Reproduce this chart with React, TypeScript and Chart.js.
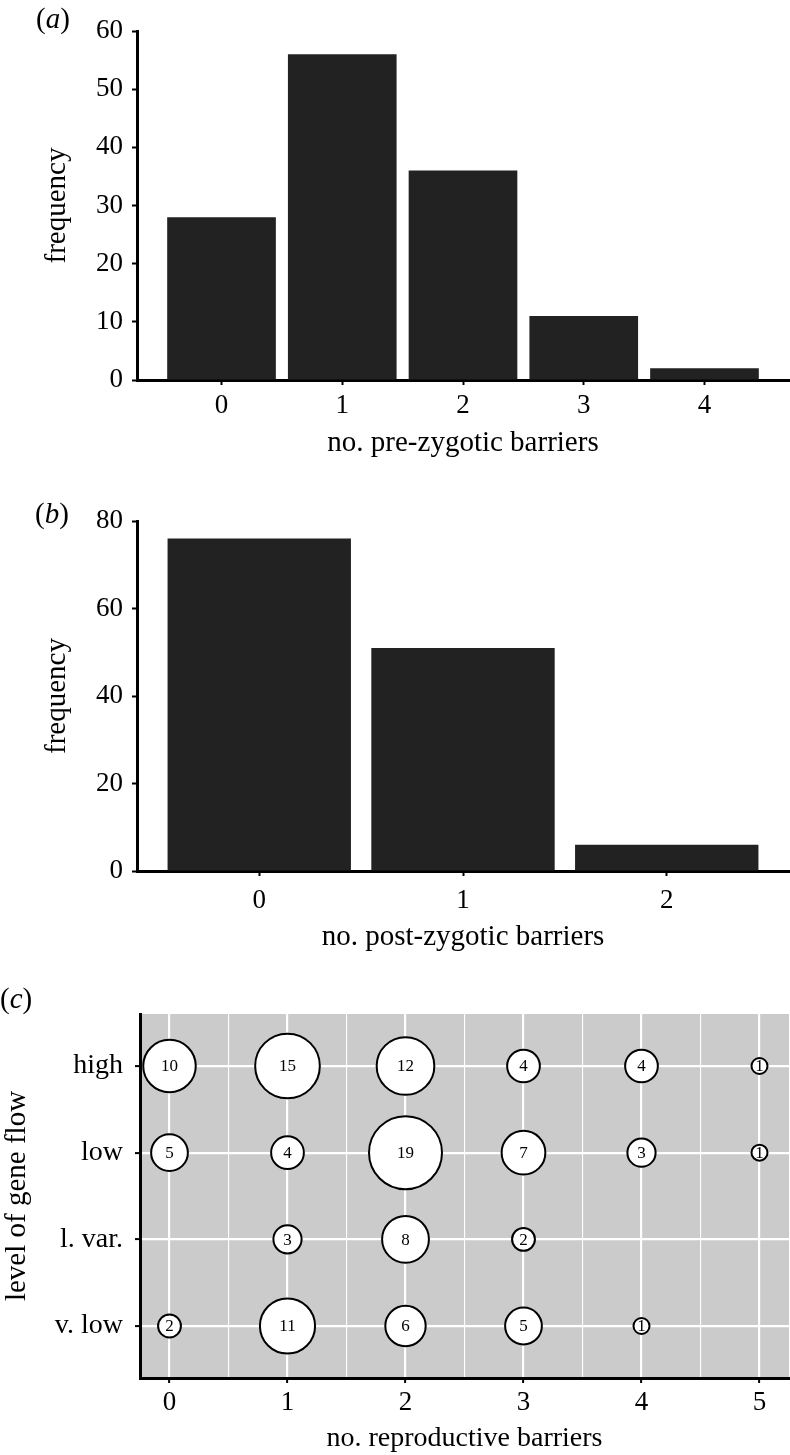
import React, { useEffect, useRef } from "react";
import { Chart, registerables } from "chart.js";

Chart.register(...registerables);

const FONT = "'Liberation Serif', 'Times New Roman', Times, serif";

// ---------- Panel (a) ----------
const preZygoticBarriers = [0, 1, 2, 3, 4];
const preZygoticFrequency = [28, 56, 36, 11, 2];
const preFrequencyTicks = [0, 10, 20, 30, 40, 50, 60];

// ---------- Panel (b) ----------
const postZygoticBarriers = [0, 1, 2];
const postZygoticFrequency = [76, 51, 6];
const postFrequencyTicks = [0, 20, 40, 60, 80];

// ---------- Panel (c) ----------
const reproductiveBarriers = [0, 1, 2, 3, 4, 5];
const geneFlowLevels = ["v. low", "l. var.", "low", "high"];
const countsVLow = [2, 11, 6, 5, 1, null];
const countsLVar = [null, 3, 8, 2, null, null];
const countsLow = [5, 4, 19, 7, 3, 1];
const countsHigh = [10, 15, 12, 4, 4, 1];
const countsByLevel = [countsVLow, countsLVar, countsLow, countsHigh];

const W = 790;

function bubbleRadius(n: number) {
  return Math.sqrt(7.4 + 73.6 * n) - 1;
}

type BarSpec = {
  height: number;
  top: number;
  bottom: number;
  left: number;
  xs: number[];
  ys: number[];
  yTicks: number[];
  xMin: number;
  xMax: number;
  xTitle: string;
  xTickPad: number;
  xTitlePad: number;
};

function barConfig(s: BarSpec): any {
  return {
    type: "bar",
    data: {
      datasets: [
        {
          data: s.xs.map((x, i) => ({ x, y: s.ys[i] })),
          backgroundColor: "#222222",
          borderWidth: 0,
          barPercentage: 0.9,
          categoryPercentage: 1,
        },
      ],
    },
    options: {
      responsive: false,
      animation: false,
      events: [],
      layout: { autoPadding: false, padding: { top: s.top, right: 1, left: 0, bottom: 0 } },
      plugins: {
        legend: { display: false },
        tooltip: { enabled: false },
        title: { display: false },
      },
      scales: {
        x: {
          type: "linear",
          min: s.xMin,
          max: s.xMax,
          offset: false,
          afterBuildTicks: (sc: any) => {
            sc.ticks = s.xs.map((v) => ({ value: v }));
          },
          afterFit: (sc: any) => {
            sc.height = s.height - s.bottom;
          },
          grid: {
            offset: false,
            drawOnChartArea: false,
            drawTicks: true,
            tickLength: 5,
            tickWidth: 2,
            tickColor: "#000",
          },
          border: { display: true, color: "#000", width: 3 },
          ticks: {
            color: "#000",
            font: { family: FONT, size: 27 },
            padding: s.xTickPad,
            maxRotation: 0,
            autoSkip: false,
          },
          title: {
            display: true,
            text: s.xTitle,
            color: "#000",
            font: { family: FONT, size: 29 },
            padding: { top: 0, bottom: s.xTitlePad },
          },
        },
        y: {
          type: "linear",
          min: s.yTicks[0],
          max: s.yTicks[s.yTicks.length - 1],
          afterBuildTicks: (sc: any) => {
            sc.ticks = s.yTicks.map((v) => ({ value: v }));
          },
          afterFit: (sc: any) => {
            sc.width = s.left;
          },
          grid: {
            drawOnChartArea: false,
            drawTicks: true,
            tickLength: 5,
            tickWidth: 2,
            tickColor: "#000",
          },
          border: { display: true, color: "#000", width: 3 },
          ticks: {
            color: "#000",
            font: { family: FONT, size: 27 },
            padding: 9,
          },
          title: {
            display: true,
            text: "frequency",
            color: "#000",
            font: { family: FONT, size: 29 },
            padding: { top: 40, bottom: 0 },
          },
        },
      },
    },
  };
}

const bgPlugin = {
  id: "panelBg",
  beforeDraw(chart: any) {
    const { ctx, chartArea } = chart;
    ctx.save();
    ctx.fillStyle = "#cbcbcb";
    ctx.fillRect(chartArea.left, chartArea.top, chartArea.width, chartArea.height);
    ctx.restore();
  },
};

const bubbleLabelPlugin = {
  id: "bubbleLabels",
  afterDatasetsDraw(chart: any) {
    const { ctx } = chart;
    const meta = chart.getDatasetMeta(0);
    const raw = chart.data.datasets[0].data;
    ctx.save();
    ctx.font = `17px ${FONT}`;
    ctx.fillStyle = "#000";
    ctx.textAlign = "center";
    ctx.textBaseline = "middle";
    meta.data.forEach((el: any, i: number) => {
      ctx.fillText(String(raw[i].n), el.x, el.y + 1);
    });
    ctx.restore();
  },
};

function bubbleConfig(height: number): any {
  const points: any[] = [];
  countsByLevel.forEach((row, li) => {
    row.forEach((n, bi) => {
      if (n != null) {
        points.push({ x: reproductiveBarriers[bi], y: li + 1, r: bubbleRadius(n), n });
      }
    });
  });
  const gridValues: number[] = [];
  reproductiveBarriers.forEach((b, i) => {
    gridValues.push(b);
    if (i < reproductiveBarriers.length - 1) gridValues.push(b + 0.5);
  });
  const isMajor = (v: number) => Number.isInteger(v);
  return {
    type: "bubble",
    data: {
      datasets: [
        {
          data: points,
          backgroundColor: "#ffffff",
          borderColor: "#000000",
          borderWidth: 2,
          hoverBorderWidth: 2,
          hoverRadius: 0,
          clip: false,
        },
      ],
    },
    options: {
      responsive: false,
      animation: false,
      events: [],
      layout: { autoPadding: false, padding: { top: 54, right: 1, left: 0, bottom: 0 } },
      plugins: {
        legend: { display: false },
        tooltip: { enabled: false },
        title: { display: false },
      },
      scales: {
        x: {
          type: "linear",
          min: -0.25,
          max: 5.25,
          afterBuildTicks: (sc: any) => {
            sc.ticks = gridValues.map((v) => ({ value: v }));
          },
          afterFit: (sc: any) => {
            sc.height = height - 418;
          },
          grid: {
            color: "#ffffff",
            lineWidth: (c: any) => (isMajor(c.tick.value) ? 2.2 : 1.1),
            drawOnChartArea: true,
            drawTicks: true,
            tickLength: 5,
            tickWidth: 2,
            tickColor: (c: any) => (isMajor(c.tick.value) ? "#000" : "rgba(0,0,0,0)"),
          },
          border: { display: true, color: "#000", width: 3 },
          ticks: {
            color: "#000",
            font: { family: FONT, size: 27 },
            padding: 4,
            maxRotation: 0,
            autoSkip: false,
            callback: (v: number) => (isMajor(v) ? String(v) : ""),
          },
          title: {
            display: true,
            text: "no. reproductive barriers",
            color: "#000",
            font: { family: FONT, size: 28 },
            padding: { top: 0, bottom: 0 },
          },
        },
        y: {
          type: "linear",
          min: 0.4,
          max: geneFlowLevels.length + 0.6,
          afterBuildTicks: (sc: any) => {
            sc.ticks = geneFlowLevels.map((_, i) => ({ value: i + 1 }));
          },
          afterFit: (sc: any) => {
            sc.width = 140;
          },
          grid: {
            color: "#ffffff",
            lineWidth: 2.2,
            drawOnChartArea: true,
            drawTicks: true,
            tickLength: 5,
            tickWidth: 2,
            tickColor: "#000",
          },
          border: { display: true, color: "#000", width: 3 },
          ticks: {
            color: "#000",
            font: { family: FONT, size: 28 },
            padding: 12,
            autoSkip: false,
            callback: (v: number) => geneFlowLevels[v - 1],
          },
          title: {
            display: true,
            text: "level of gene flow",
            color: "#000",
            font: { family: FONT, size: 29 },
            padding: { top: 0, bottom: 0 },
          },
        },
      },
    },
    plugins: [bgPlugin, bubbleLabelPlugin],
  };
}

function ChartCanvas({ top, height, config }: { top: number; height: number; config: () => any }) {
  const ref = useRef<HTMLCanvasElement | null>(null);
  useEffect(() => {
    if (!ref.current) return;
    const chart = new Chart(ref.current, config());
    return () => chart.destroy();
  }, []);
  return (
    <canvas
      ref={ref}
      width={W}
      height={height}
      style={{ position: "absolute", left: 0, top, width: W, height, display: "block" }}
    />
  );
}

const labelStyle = (left: number, top: number): React.CSSProperties => ({
  position: "absolute",
  left,
  top,
  fontFamily: FONT,
  fontSize: 29,
  lineHeight: "29px",
  color: "#000",
  whiteSpace: "nowrap",
});

export default function App() {
  const hA = 470;
  const hB = 490;
  const hC = 495;
  return (
    <div
      style={{
        position: "absolute",
        left: 0,
        top: 0,
        width: W,
        height: 1455,
        background: "#ffffff",
        overflow: "hidden",
      }}
    >
      <ChartCanvas
        top={0}
        height={hA}
        config={() =>
          barConfig({
            height: hA,
            top: 31,
            bottom: 380,
            left: 137,
            xs: preZygoticBarriers,
            ys: preZygoticFrequency,
            yTicks: preFrequencyTicks,
            xMin: -0.7,
            xMax: 4.7,
            xTitle: "no. pre-zygotic barriers",
            xTickPad: 5,
            xTitlePad: 9,
          })
        }
      />
      <ChartCanvas
        top={470}
        height={hB}
        config={() =>
          barConfig({
            height: hB,
            top: 51,
            bottom: 401,
            left: 137,
            xs: postZygoticBarriers,
            ys: postZygoticFrequency,
            yTicks: postFrequencyTicks,
            xMin: -0.6,
            xMax: 2.6,
            xTitle: "no. post-zygotic barriers",
            xTickPad: 9,
            xTitlePad: 5,
          })
        }
      />
      <ChartCanvas top={960} height={hC} config={() => bubbleConfig(hC)} />
      <span style={labelStyle(36, 4)}>
        (<i>a</i>)
      </span>
      <span style={labelStyle(35, 499)}>
        (<i>b</i>)
      </span>
      <span style={labelStyle(0, 984)}>
        (<i>c</i>)
      </span>
    </div>
  );
}
